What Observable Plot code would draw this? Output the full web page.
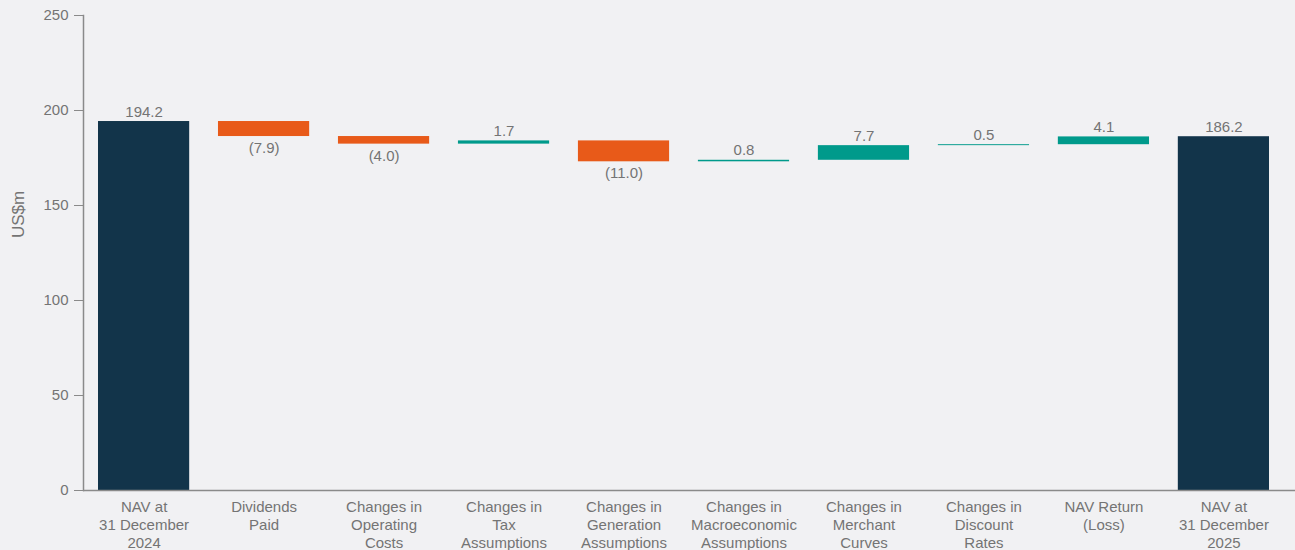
<!DOCTYPE html>
<html>
<head>
<meta charset="utf-8">
<script src="https://cdn.jsdelivr.net/npm/d3@7"></script>
<script src="https://cdn.jsdelivr.net/npm/@observablehq/plot@0.6"></script>
<style>
  html, body { margin: 0; padding: 0; background: #f1f1f3; }
  #chart svg { display: block; background: #f1f1f3; }
</style>
</head>
<body>
<div id="chart"></div>
<script>
// NAV bridge, US$m
const categories = [
  "NAV at\n31 December\n2024",
  "Dividends\nPaid",
  "Changes in\nOperating\nCosts",
  "Changes in\nTax\nAssumptions",
  "Changes in\nGeneration\nAssumptions",
  "Changes in\nMacroeconomic\nAssumptions",
  "Changes in\nMerchant\nCurves",
  "Changes in\nDiscount\nRates",
  "NAV Return\n(Loss)",
  "NAV at\n31 December\n2025"
];
const values = [194.2, -7.9, -4.0, 1.7, -11.0, 0.8, 7.7, 0.5, 4.1, 186.2];
const isTotal = [true, false, false, false, false, false, false, false, false, true];
const yTicks = [0, 50, 100, 150, 200, 250];

const NAVY = "#12344a", ORANGE = "#e85a19", TEAL = "#009a8b", TEXT = "#747474", AXIS = "#8a8a8a";

// Build the floating segments of the waterfall
let running = 0;
const rows = categories.map((c, i) => {
  const v = values[i];
  let y1, y2;
  if (isTotal[i]) { y1 = 0; y2 = v; running = v; }
  else { y1 = running; y2 = running + v; running = y2; }
  const label = isTotal[i] || v >= 0 ? v.toFixed(1) : `(${Math.abs(v).toFixed(1)})`;
  const fill = isTotal[i] ? NAVY : (v < 0 ? ORANGE : TEAL);
  return {category: c, y1, y2, top: Math.max(y1, y2), bottom: Math.min(y1, y2), neg: !isTotal[i] && v < 0, label, fill};
});

const chart = Plot.plot({
  width: 1295,
  height: 550,
  marginTop: 15,
  marginLeft: 83,
  marginRight: 11,
  marginBottom: 60,
  style: {background: "#f1f1f3", fontFamily: "'Liberation Sans', Arial, sans-serif", fontSize: "15px", color: TEXT},
  x: {domain: categories, paddingInner: 0.24, paddingOuter: 0.125, round: false},
  y: {domain: [0, 250]},
  marks: [
    Plot.barY(rows, {x: "category", y1: "y1", y2: "y2", fill: "fill"}),
    Plot.text(rows.filter(d => !d.neg), {x: "category", y: "top", text: "label", lineAnchor: "bottom", dy: -5, fill: TEXT, fontSize: 15}),
    Plot.text(rows.filter(d => d.neg), {x: "category", y: "bottom", text: "label", lineAnchor: "top", dy: 6, fill: TEXT, fontSize: 15}),
    Plot.frame({anchor: "left", stroke: AXIS, strokeWidth: 1.5}),
    Plot.ruleY([0], {stroke: AXIS, strokeWidth: 1.5, insetRight: -12}),
    Plot.axisY({ticks: yTicks, tickSize: 9, tickPadding: 6, stroke: AXIS, fill: TEXT, label: null, fontSize: 15}),
    Plot.axisX({tickSize: 0, tickPadding: 9, fill: TEXT, label: null, fontSize: 15, lineHeight: 1.2}),
    Plot.text(["US$m"], {frameAnchor: "left", rotate: -90, dx: -65, dy: -15, fill: TEXT, fontSize: 17})
  ]
});
document.getElementById("chart").append(chart);
</script>
</body>
</html>
